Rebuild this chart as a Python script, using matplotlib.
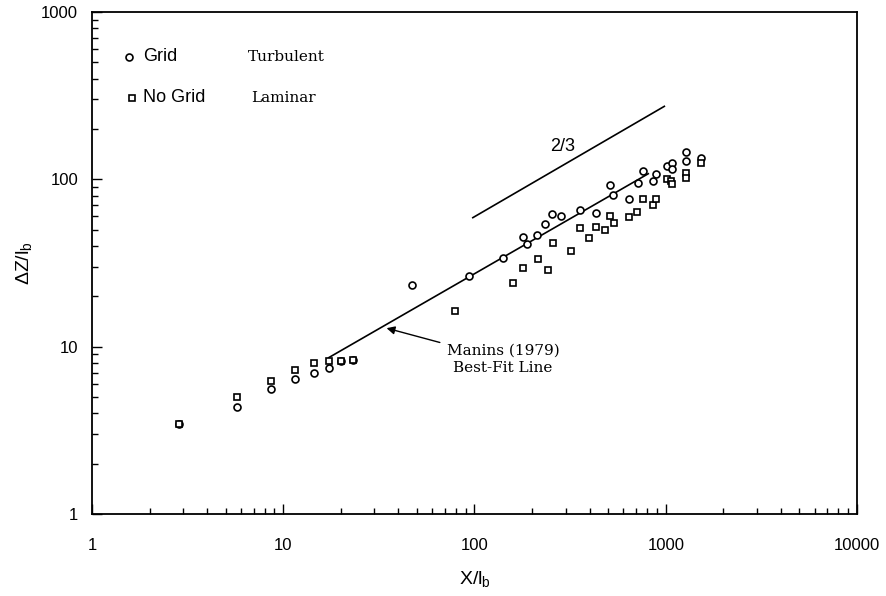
import matplotlib
matplotlib.use("Agg")
import matplotlib.pyplot as plt
from matplotlib.ticker import FixedLocator, FixedFormatter, LogLocator, NullFormatter

plt.rcParams["font.family"] = ["Liberation Sans", "DejaVu Sans"]
plt.rcParams["mathtext.default"] = "regular"

# Grid (turbulent) runs - circles
grid_x = [2.85, 5.75, 8.6, 11.5, 14.4, 17.3, 20.1, 23.2, 47.3, 93.9, 141.5,
          178.6, 188.2, 212, 234.6, 255, 282, 356, 430, 511, 532, 640,
          716, 763, 858, 893, 1019, 1074, 1074, 1275, 1280, 1524]
grid_y = [3.45, 4.38, 5.56, 6.38, 7.0, 7.49, 8.25, 8.33, 23.4, 26.6, 33.8,
          45.5, 40.9, 46.3, 53.9, 61.8, 60.4, 65.3, 63.2, 92.6, 81.0, 76.4,
          95.6, 111.7, 97.8, 108.2, 120.8, 125.9, 115.8, 128.3, 145.2, 134.8]

# No grid (laminar) runs - squares
nogrid_x = [2.85, 5.75, 8.6, 11.5, 14.4, 17.3, 20.1, 23.2, 79.1, 159.6,
            178.6, 214, 241.5, 256.5, 319.7, 356, 398, 430, 479.6, 509,
            534, 641, 710, 760, 855, 889, 1019, 1070, 1075, 1275, 1275, 1524]
nogrid_y = [3.45, 4.99, 6.24, 7.29, 8.02, 8.25, 8.25, 8.33, 16.4, 23.9,
            29.4, 33.4, 28.6, 41.5, 37.5, 51.2, 44.8, 52.2, 49.6, 60.2,
            54.7, 59.3, 63.6, 76.7, 70.0, 76.4, 100.5, 97.8, 93.4, 108.7, 102.4, 125.9]

# Manins (1979) best-fit line and 2/3 slope reference
fit_x = [17.3, 810]
fit_y = [8.6, 108]
slope_x = [98, 983]
slope_y = [59, 273]

serif = ["DejaVu Serif", "Liberation Serif"]

fig = plt.figure(figsize=(8.86, 5.96), dpi=100)
ax = fig.add_axes([0.1038, 0.1376, 0.8635, 0.8423])

mk = dict(linestyle="none", ms=5, mfc="white", mec="black", mew=1.2)
ax.plot(grid_x, grid_y, marker="o", zorder=3, **mk)
ax.plot(nogrid_x, nogrid_y, marker="s", zorder=3, **mk)
ax.plot(fit_x, fit_y, color="black", lw=1.2, zorder=2)
ax.plot(slope_x, slope_y, color="black", lw=1.2, zorder=2)

ax.text(290, 156, "2/3", fontsize=13, ha="center", va="center")
ax.annotate("Manins (1979)\nBest-Fit Line", xy=(34.7, 12.9), xytext=(141, 8.38),
            ha="center", va="center", family=serif,
            fontsize=11, linespacing=1.35,
            arrowprops=dict(arrowstyle="-|>", color="black", lw=1.0,
                            mutation_scale=12, shrinkA=3, shrinkB=0))

# legend drawn by hand
ax.plot([0.0488], [0.911], transform=ax.transAxes, marker="o", clip_on=False, **mk)
ax.plot([0.0518], [0.829], transform=ax.transAxes, marker="s", clip_on=False, **mk)
ax.text(0.0663, 0.911, "Grid", transform=ax.transAxes, fontsize=13, va="center")
ax.text(0.0663, 0.829, "No Grid", transform=ax.transAxes, fontsize=13, va="center")
ax.text(0.204, 0.911, "Turbulent", transform=ax.transAxes, fontsize=11, va="center",
        family=serif)
ax.text(0.2075, 0.829, "Laminar", transform=ax.transAxes, fontsize=11, va="center",
        family=serif)

ax.set_xscale("log")
ax.set_yscale("log")
ax.set_xlim(1, 10000)
ax.set_ylim(1, 1000)

x_ticks = [1, 10, 100, 1000, 10000]
y_ticks = [1, 10, 100, 1000]
ax.xaxis.set_major_locator(FixedLocator(x_ticks))
ax.xaxis.set_major_formatter(FixedFormatter([str(t) for t in x_ticks]))
ax.yaxis.set_major_locator(FixedLocator(y_ticks))
ax.yaxis.set_major_formatter(FixedFormatter([str(t) for t in y_ticks]))
ax.xaxis.set_minor_locator(LogLocator(base=10, subs=range(2, 10), numticks=20))
ax.yaxis.set_minor_locator(LogLocator(base=10, subs=range(2, 10), numticks=20))
ax.xaxis.set_minor_formatter(NullFormatter())
ax.yaxis.set_minor_formatter(NullFormatter())

ax.tick_params(which="both", direction="in", top=False, right=False, width=1.0)
ax.tick_params(which="major", length=7)
ax.tick_params(which="minor", length=4)
ax.tick_params(axis="x", which="major", pad=17, labelsize=12)
ax.tick_params(axis="y", which="major", pad=10, labelsize=12)

for s in ax.spines.values():
    s.set_linewidth(1.3)

ax.set_xlabel("X/l$_b$", fontsize=14, labelpad=12)
ax.set_ylabel("ΔZ/l$_b$", fontsize=14, labelpad=5)

fig.savefig("out.png", dpi=100)
